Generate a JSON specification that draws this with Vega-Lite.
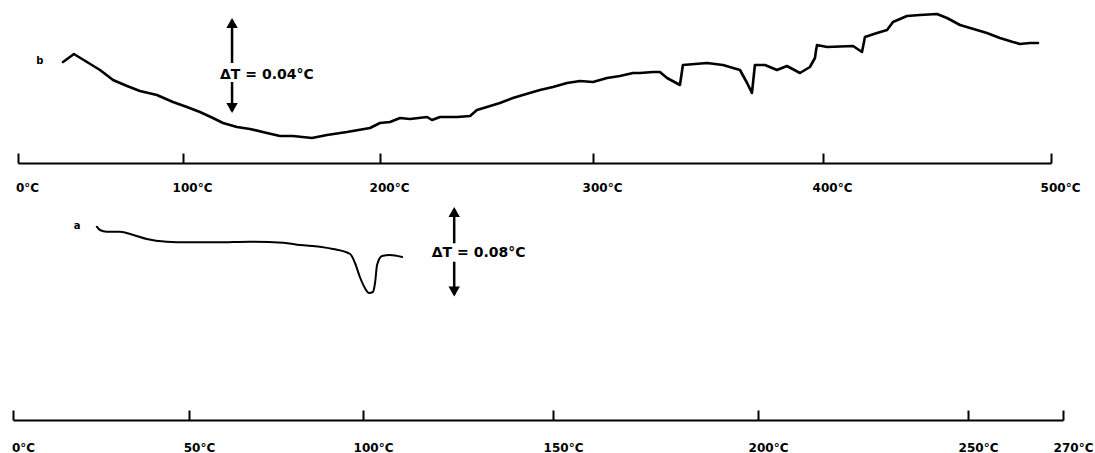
{
  "$schema": "https://vega.github.io/schema/vega-lite/v6.json",
  "background": "white",
  "padding": {"left": 11, "top": 8, "right": 0, "bottom": 0},
  "bounds": "flush",
  "spacing": 37,
  "config": {
    "view": {"stroke": null},
    "axis": {
      "domainColor": "black", "domainWidth": 2, "tickColor": "black", "tickWidth": 2, "tickSize": -10,
      "labelFont": "DejaVu Sans", "labelFontWeight": "bold", "labelFontSize": 12, "labelColor": "black",
      "labelFlush": false, "labelOverlap": false, "labelBound": false, "labelAlign": "center",
      "labelBaseline": "middle", "grid": false, "title": null
    }
  },
  "datasets": {
    "curveB": [
      {"t": 27.3, "v": 101}, {"t": 33.9, "v": 109}, {"t": 41.8, "v": 101}, {"t": 49.7, "v": 93},
      {"t": 57.6, "v": 83}, {"t": 66.1, "v": 77}, {"t": 73.9, "v": 72}, {"t": 84.2, "v": 68},
      {"t": 93.9, "v": 61}, {"t": 102.0, "v": 56}, {"t": 108.6, "v": 51}, {"t": 115.2, "v": 45},
      {"t": 120.3, "v": 40}, {"t": 127.4, "v": 36}, {"t": 134.0, "v": 34}, {"t": 142.6, "v": 30},
      {"t": 149.2, "v": 27}, {"t": 155.8, "v": 27}, {"t": 165.5, "v": 25}, {"t": 173.1, "v": 28},
      {"t": 183.2, "v": 31}, {"t": 194.9, "v": 35}, {"t": 200.0, "v": 40}, {"t": 204.7, "v": 41},
      {"t": 209.4, "v": 45}, {"t": 214.1, "v": 44}, {"t": 222.1, "v": 46}, {"t": 224.4, "v": 43},
      {"t": 228.2, "v": 46}, {"t": 236.2, "v": 46}, {"t": 242.3, "v": 47}, {"t": 245.5, "v": 53},
      {"t": 250.2, "v": 56}, {"t": 256.3, "v": 60}, {"t": 262.4, "v": 65}, {"t": 267.1, "v": 68},
      {"t": 275.1, "v": 73}, {"t": 281.2, "v": 76}, {"t": 287.8, "v": 80}, {"t": 293.9, "v": 82},
      {"t": 300.0, "v": 81}, {"t": 306.1, "v": 85}, {"t": 311.7, "v": 87}, {"t": 317.4, "v": 90},
      {"t": 320.4, "v": 90}, {"t": 326.1, "v": 91}, {"t": 329.1, "v": 91}, {"t": 332.2, "v": 85},
      {"t": 337.8, "v": 78}, {"t": 339.1, "v": 98}, {"t": 349.6, "v": 100}, {"t": 356.5, "v": 98},
      {"t": 363.9, "v": 93}, {"t": 367.0, "v": 80}, {"t": 369.1, "v": 70}, {"t": 370.4, "v": 98},
      {"t": 374.8, "v": 98}, {"t": 380.0, "v": 93}, {"t": 384.3, "v": 97}, {"t": 390.0, "v": 90},
      {"t": 394.3, "v": 96}, {"t": 396.5, "v": 105}, {"t": 397.0, "v": 113}, {"t": 397.4, "v": 118},
      {"t": 401.8, "v": 116}, {"t": 413.2, "v": 117}, {"t": 417.1, "v": 111}, {"t": 418.4, "v": 126},
      {"t": 423.7, "v": 130}, {"t": 428.1, "v": 133}, {"t": 430.7, "v": 141}, {"t": 436.8, "v": 147},
      {"t": 442.5, "v": 148}, {"t": 450.0, "v": 149}, {"t": 454.4, "v": 145}, {"t": 460.1, "v": 138},
      {"t": 467.5, "v": 133}, {"t": 471.9, "v": 130}, {"t": 477.6, "v": 125}, {"t": 483.3, "v": 121},
      {"t": 486.4, "v": 119}, {"t": 490.8, "v": 120}, {"t": 494.3, "v": 120}
    ],
    "curveA": [
      {"t": 23.8, "v": 193.3}, {"t": 24.7, "v": 190}, {"t": 26.6, "v": 188.3}, {"t": 30.4, "v": 188.3},
      {"t": 34.2, "v": 185}, {"t": 38.0, "v": 181}, {"t": 43.7, "v": 178.3}, {"t": 49.3, "v": 177.7},
      {"t": 58.0, "v": 177.7}, {"t": 67.5, "v": 178.3}, {"t": 77.1, "v": 177.3}, {"t": 81.9, "v": 175},
      {"t": 87.6, "v": 173.3}, {"t": 91.4, "v": 171}, {"t": 96.3, "v": 166}, {"t": 97.7, "v": 157},
      {"t": 99.1, "v": 143}, {"t": 100.5, "v": 132}, {"t": 101.6, "v": 127}, {"t": 102.6, "v": 128},
      {"t": 103.2, "v": 138}, {"t": 103.7, "v": 155}, {"t": 105.0, "v": 164}, {"t": 107.1, "v": 165},
      {"t": 110.3, "v": 163}
    ],
    "shaftsB": [{"t": 124.9, "v": 143, "v2": 100}, {"t": 124.9, "v": 81, "v2": 52}],
    "headsB": [{"t": 124.9, "v": 140, "head": "up"}, {"t": 124.9, "v": 55, "head": "down"}],
    "noteB": [{"t": 118.8, "v": 88, "label": "ΔT = 0.04°C"}],
    "letterB": [{"t": 13.3, "v": 102, "label": "b"}],
    "shaftsA": [{"t": 124.0, "v": 211, "v2": 176.7}, {"t": 124.0, "v": 158.3, "v2": 125.5}],
    "headsA": [{"t": 124.0, "v": 208, "head": "up"}, {"t": 124.0, "v": 128.5, "head": "down"}],
    "noteA": [{"t": 118.1, "v": 166.7, "label": "ΔT = 0.08°C"}],
    "letterA": [{"t": 18.2, "v": 194, "label": "a"}]
  },
  "vconcat": [
    {
      "width": 1040,
      "height": 155,
      "encoding": {
        "x": {
          "field": "t", "type": "quantitative",
          "scale": {"domain": [0, 100, 200, 300, 400, 500], "range": [7, 172, 369, 582, 812, 1040]},
          "axis": {"values": [0, 100, 200, 300, 400, 500], "labelExpr": "datum.value + '°C'", "labelPadding": 34, "labelOffset": 9}
        },
        "y": {"field": "v", "type": "quantitative", "scale": {"domain": [0, 155]}, "axis": null}
      },
      "layer": [
        {"data": {"name": "curveB"}, "mark": {"type": "line", "color": "black", "strokeWidth": 2.6, "strokeJoin": "round", "strokeCap": "round"}},
        {"data": {"name": "shaftsB"}, "mark": {"type": "rule", "color": "black", "strokeWidth": 2.5}, "encoding": {"y2": {"field": "v2"}}},
        {"data": {"name": "headsB"}, "mark": {"type": "point", "filled": true, "color": "black", "opacity": 1, "size": 130},
          "encoding": {"shape": {"field": "head", "type": "nominal", "scale": {"domain": ["up", "down"], "range": ["triangle-up", "triangle-down"]}, "legend": null}}},
        {"data": {"name": "noteB"}, "mark": {"type": "text", "align": "left", "baseline": "middle", "font": "DejaVu Sans", "fontWeight": "bold", "fontSize": 14, "color": "black"},
          "encoding": {"text": {"field": "label"}}},
        {"data": {"name": "letterB"}, "mark": {"type": "text", "align": "center", "baseline": "middle", "font": "DejaVu Sans", "fontWeight": "bold", "fontSize": 10, "color": "black"},
          "encoding": {"text": {"field": "label"}}}
      ]
    },
    {
      "width": 1052,
      "height": 220,
      "encoding": {
        "x": {
          "field": "t", "type": "quantitative",
          "scale": {"domain": [0, 50, 100, 150, 200, 250, 270], "range": [2, 178, 352, 542, 747, 957, 1052]},
          "axis": {"values": [0, 50, 100, 150, 200, 250, 270], "labelExpr": "datum.value + '°C'", "labelPadding": 37, "labelOffset": 10}
        },
        "y": {"field": "v", "type": "quantitative", "scale": {"domain": [0, 220]}, "axis": null}
      },
      "layer": [
        {"data": {"name": "curveA"}, "mark": {"type": "line", "color": "black", "strokeWidth": 2, "strokeJoin": "round", "strokeCap": "round", "interpolate": "monotone"}},
        {"data": {"name": "shaftsA"}, "mark": {"type": "rule", "color": "black", "strokeWidth": 2.5}, "encoding": {"y2": {"field": "v2"}}},
        {"data": {"name": "headsA"}, "mark": {"type": "point", "filled": true, "color": "black", "opacity": 1, "size": 130},
          "encoding": {"shape": {"field": "head", "type": "nominal", "scale": {"domain": ["up", "down"], "range": ["triangle-up", "triangle-down"]}, "legend": null}}},
        {"data": {"name": "noteA"}, "mark": {"type": "text", "align": "left", "baseline": "middle", "font": "DejaVu Sans", "fontWeight": "bold", "fontSize": 14, "color": "black"},
          "encoding": {"text": {"field": "label"}}},
        {"data": {"name": "letterA"}, "mark": {"type": "text", "align": "center", "baseline": "middle", "font": "DejaVu Sans", "fontWeight": "bold", "fontSize": 10, "color": "black"},
          "encoding": {"text": {"field": "label"}}}
      ]
    }
  ]
}
